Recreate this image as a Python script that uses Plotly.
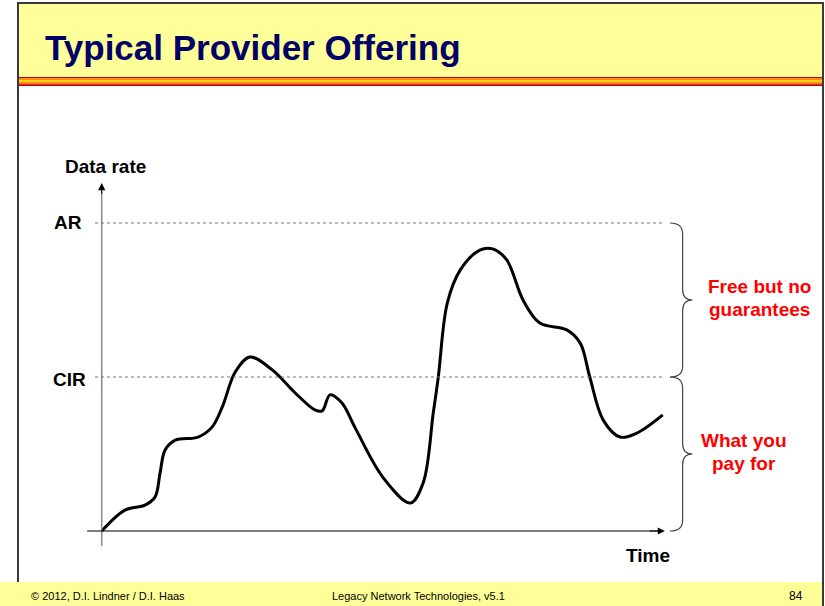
import plotly.graph_objects as go

# ---- data -------------------------------------------------------------
time_pts = [0, 4.15, 7.7, 9.5, 10.4, 11.3, 13.1, 17.2, 19.7, 21.5, 23.8, 26.4,
            30.4, 34.5, 38.0, 39.3, 40.7, 42.8, 45.2, 50.1, 55.0, 57.3, 59.1,
            60.0, 61.6, 63.9, 67.4, 69.7, 72.2, 75.1, 78.1, 82.9, 85.3, 87.0,
            89.4, 92.4, 95.4, 100]
rate_pts = [0, 6.8, 8.4, 11.0, 18.8, 26.3, 29.5, 30.5, 33.8, 40.3, 51.6, 56.5,
            52.3, 44.8, 39.3, 39.0, 44.2, 41.6, 33.4, 17.5, 9.1, 15.6, 38.3,
            50.0, 74.0, 84.7, 91.2, 91.6, 88.0, 75.0, 67.5, 65.3, 61.0, 50.0,
            36.0, 30.5, 31.8, 37.7]

level_names = ["CIR", "AR"]
level_values = [50, 100]

band_labels = [["What you", "pay for"], ["Free but no", "guarantees"]]

title_text = "Typical Provider Offering"
footer_left = "© 2012, D.I. Lindner / D.I. Haas"
footer_mid = "Legacy Network Technologies, v5.1"
footer_page = "84"

# ---- canvas -----------------------------------------------------------
W, H = 825, 606
FONT = "Liberation Sans, Arial, sans-serif"
TITLE_YELLOW = "#FFFF99"
NAVY = "#000066"
BORDER = "#3a3a3a"


def px(x):
    return x / W


def py(y):
    return 1 - y / H


fig = go.Figure()

# the rate curve
fig.add_trace(go.Scatter(
    x=time_pts, y=rate_pts, mode="lines",
    line=dict(color="black", width=3, shape="spline", smoothing=1.0),
    hoverinfo="skip", showlegend=False))

shapes = []
annotations = []

# slide chrome: title bar, stripe, footer and borders
shapes.append(dict(type="rect", xref="paper", yref="paper",
                   x0=px(18), x1=px(823), y0=py(77), y1=py(3),
                   fillcolor=TITLE_YELLOW, line=dict(width=0), layer="below"))
stripe = [(77, 78.3, "#B00000"), (78.3, 80.3, "#FF8800"), (80.3, 82.3, "#FFCC00"),
          (82.3, 84.3, "#FF7700"), (84.3, 86, "#C00000")]
for y0, y1, c in stripe:
    shapes.append(dict(type="rect", xref="paper", yref="paper",
                       x0=px(18), x1=px(823), y0=py(y1), y1=py(y0),
                       fillcolor=c, line=dict(width=0), layer="below"))
shapes.append(dict(type="rect", xref="paper", yref="paper",
                   x0=0, x1=px(823), y0=0, y1=py(582),
                   fillcolor=TITLE_YELLOW, line=dict(width=0), layer="below"))
shapes.append(dict(type="line", xref="paper", yref="paper",
                   x0=px(18), x1=px(18), y0=py(582), y1=py(2),
                   line=dict(color=BORDER, width=2)))
shapes.append(dict(type="line", xref="paper", yref="paper",
                   x0=px(17), x1=px(824), y0=py(3), y1=py(3),
                   line=dict(color=BORDER, width=2)))
shapes.append(dict(type="line", xref="paper", yref="paper",
                   x0=px(823), x1=px(823), y0=0, y1=py(2),
                   line=dict(color=BORDER, width=2)))

# axes
x_end = 100.4
y_top = 113
shapes.append(dict(type="line", xref="x", yref="y", x0=0, x1=0, y0=-4.9, y1=y_top - 3,
                   line=dict(color="#8a8a8a", width=1.5)))
shapes.append(dict(type="line", xref="x", yref="y", x0=-2.6, x1=x_end - 1, y0=0, y1=0,
                   line=dict(color="black", width=1.2)))
annotations.append(dict(x=x_end, y=0, ax=x_end - 3, ay=0, axref="x", ayref="y",
                        xref="x", yref="y", text="", showarrow=True, arrowhead=2,
                        arrowsize=1.2, arrowwidth=1.2, arrowcolor="black"))
annotations.append(dict(x=0, y=y_top, ax=0, ay=y_top - 4, axref="x", ayref="y",
                        xref="x", yref="y", text="", showarrow=True, arrowhead=2,
                        arrowsize=1.2, arrowwidth=1.2, arrowcolor="black"))

# reference levels (CIR, AR)
for name, val, dy in zip(level_names, level_values, [-0.9, 0.3]):
    shapes.append(dict(type="line", xref="x", yref="y", x0=-1.2, x1=x_end, y0=val, y1=val,
                       line=dict(color="#777777", width=1, dash="dot")))
    annotations.append(dict(x=-2.4 if name == "CIR" else -3.1, y=val + dy, xref="x", yref="y",
                            text=f"<b>{name}</b>", showarrow=False, xanchor="right",
                            yanchor="middle",
                            font=dict(family=FONT, size=19, color="black")))

# braces grouping the bands between the levels
bx0, bx1, bx2 = 101.3, 103.55, 105.3
d = 3.5
bounds = [0] + level_values
for i in range(len(level_values)):
    bot, top = bounds[i], bounds[i + 1]
    mid = (bot + top) / 2
    path = (f"M {bx0},{top} Q {bx1},{top} {bx1},{top - d} L {bx1},{mid + d} "
            f"Q {bx1},{mid} {bx2},{mid} Q {bx1},{mid} {bx1},{mid - d} "
            f"L {bx1},{bot + d} Q {bx1},{bot} {bx0},{bot}")
    shapes.append(dict(type="path", xref="x", yref="y", path=path,
                       line=dict(color="#444444", width=1.2)))

# band labels
label_x = [114.5, 117.3]
for i, lines in enumerate(band_labels):
    mid = (bounds[i] + bounds[i + 1]) / 2
    for j, line in enumerate(lines):
        annotations.append(dict(x=label_x[i], y=mid + 4.5 - j * 7.5, xref="x", yref="y",
                                text=f"<b>{line}</b>", showarrow=False,
                                xanchor="center", yanchor="middle",
                                font=dict(family=FONT, size=19, color="#FF0000")))

# axis titles
annotations.append(dict(x=-6.9, y=118.2, xref="x", yref="y", text="<b>Data rate</b>",
                        showarrow=False, xanchor="left", yanchor="middle",
                        font=dict(family=FONT, size=19, color="black")))
annotations.append(dict(x=97.4, y=-7.8, xref="x", yref="y", text="<b>Time</b>",
                        showarrow=False, xanchor="center", yanchor="middle",
                        font=dict(family=FONT, size=19, color="black")))

# slide title and footer
annotations.append(dict(x=px(43), y=py(48), xref="paper", yref="paper",
                        text=f"<b>{title_text}</b>", showarrow=False,
                        xanchor="left", yanchor="middle",
                        font=dict(family=FONT, size=35, color=NAVY)))
annotations.append(dict(x=px(29), y=py(596), xref="paper", yref="paper",
                        text=footer_left, showarrow=False, xanchor="left", yanchor="middle",
                        font=dict(family=FONT, size=11, color="black")))
annotations.append(dict(x=px(330), y=py(596), xref="paper", yref="paper",
                        text=footer_mid, showarrow=False, xanchor="left", yanchor="middle",
                        font=dict(family=FONT, size=11, color="black")))
annotations.append(dict(x=px(805), y=py(596), xref="paper", yref="paper",
                        text=footer_page, showarrow=False, xanchor="right", yanchor="middle",
                        font=dict(family=FONT, size=12, color="black")))

# data ranges so that the plot area maps onto the full canvas
x_scale, x_origin = 5.61, 101.7
y_scale, y_origin = 3.08, 531
fig.update_layout(
    width=W, height=H, autosize=False,
    margin=dict(l=0, r=0, t=0, b=0, pad=0),
    paper_bgcolor="white", plot_bgcolor="white",
    xaxis=dict(range=[-x_origin / x_scale, (W - x_origin) / x_scale],
               visible=False, fixedrange=True),
    yaxis=dict(range=[(y_origin - H) / y_scale, y_origin / y_scale],
               visible=False, fixedrange=True),
    shapes=shapes, annotations=annotations,
)

fig.write_html("out.html")
